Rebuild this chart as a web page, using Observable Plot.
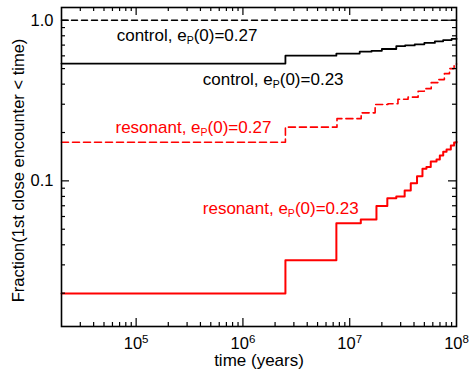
<!DOCTYPE html>
<html><head><meta charset="utf-8">
<script src="https://cdn.jsdelivr.net/npm/d3@7"></script>
<script src="https://cdn.jsdelivr.net/npm/@observablehq/plot@0.6"></script>
<style>html,body{margin:0;padding:0;background:#fff;}</style>
</head><body><div id="chart"></div>
<script>
// ---- data ----
const ctl27T = [2e4, 1e8];
const ctl27F = [1.0, 1.0];

const ctl23T = [2e4, 2.5e6, 7.5e6, 1.24e7, 1.6e7, 2.0e7, 2.73e7, 3.3e7, 4.06e7, 5.0e7, 6.27e7, 7.5e7, 9.0e7, 1e8];
const ctl23F = [0.537, 0.602, 0.620, 0.637, 0.645, 0.662, 0.689, 0.697, 0.708, 0.722, 0.739, 0.752, 0.765, 0.768];

const res27T = [2e4, 2.5e6, 7.6e6, 1.28e7, 1.73e7, 2.28e7, 2.83e7, 3.52e7, 4.37e7, 5.0e7, 5.8e7, 6.7e7, 7.7e7, 8.6e7, 9.5e7, 1e8];
const res27F = [0.174, 0.216, 0.244, 0.265, 0.299, 0.302, 0.322, 0.332, 0.361, 0.375, 0.409, 0.427, 0.465, 0.50, 0.524, 0.535];

const res23T = [2e4, 2.5e6, 7.5e6, 1.27e7, 1.78e7, 2.25e7, 2.73e7, 3.27e7, 3.73e7, 4.27e7, 4.80e7, 5.23e7, 5.74e7, 6.50e7, 6.98e7, 7.51e7, 8.07e7, 8.85e7, 9.5e7, 1e8];
const res23F = [0.0199, 0.0321, 0.0544, 0.0574, 0.0698, 0.078, 0.080, 0.087, 0.0966, 0.107, 0.119, 0.122, 0.132, 0.136, 0.144, 0.152, 0.157, 0.166, 0.173, 0.175];

const labelText = ["control, e_P(0)=0.27", "control, e_P(0)=0.23", "resonant, e_P(0)=0.27", "resonant, e_P(0)=0.23"];
const labelT = [3.0e5, 1.92e6, 3.44e5, 2.26e6];
const labelF = [0.807, 0.429, 0.2145, 0.0670];
const labelColor = ["black", "black", "red", "red"];

const xTickVals = [1e5, 1e6, 1e7, 1e8];
const yTickVals = [0.1, 1.0];
const yTickLabels = ["0.1", "1.0"];
const xTitle = "time (years)";
const yTitle = "Fraction(1st close encounter < time)";

// ---- helpers ----
const series = (T, F) => T.map((t, i) => ({t, f: F[i]}));
const labels = labelText.map((s, i) => ({text: s, t: labelT[i], f: labelF[i], color: labelColor[i]}));

const xDomain = [2e4, 1e8];
const yDomain = [0.0124, 1.2];
const W = 474, H = 375;
const mL = 61, mR = 18, mT = 7, mB = 49;
const innerW = W - mL - mR, innerH = H - mT - mB;

const xMinor = [], yMinor = [];
for (let e = 4; e < 8; e++) for (let k = 2; k <= 9; k++) { const v = k * 10 ** e; if (v > xDomain[0] && v < xDomain[1]) xMinor.push(v); }
for (let e = -2; e < 1; e++) for (let k = 2; k <= 9; k++) { const v = k * 10 ** e; if (v > yDomain[0] && v < yDomain[1]) yMinor.push(v); }
const xMajor = [1e5, 1e6, 1e7];
const yMajor = [0.1, 1.0];
const MAJ = 8, MIN = 4;

const svg = Plot.plot({
  width: W, height: H,
  marginLeft: mL, marginRight: mR, marginTop: mT, marginBottom: mB,
  style: {fontFamily: "'Liberation Sans', Arial, Helvetica, sans-serif", fontSize: "16px", background: "white", color: "black"},
  x: {type: "log", domain: xDomain, label: null},
  y: {type: "log", domain: yDomain, label: null},
  marks: [
    Plot.line(series(ctl27T, ctl27F), {x: "t", y: "f", curve: "step-after", stroke: "black", strokeWidth: 1.5, strokeDasharray: "6,4"}),
    Plot.line(series(ctl23T, ctl23F), {x: "t", y: "f", curve: "step-after", stroke: "black", strokeWidth: 1.8}),
    Plot.line(series(res27T, res27F), {x: "t", y: "f", curve: "step-after", stroke: "red", strokeWidth: 1.6, strokeDasharray: "7,4"}),
    Plot.line(series(res23T, res23F), {x: "t", y: "f", curve: "step-after", stroke: "red", strokeWidth: 2}),
    // inward ticks: bottom/top
    Plot.tickX(xMajor, {x: d => d, insetTop: innerH - MAJ, stroke: "black", strokeWidth: 1.2}),
    Plot.tickX(xMinor, {x: d => d, insetTop: innerH - MIN, stroke: "black", strokeWidth: 1.2}),
    Plot.tickX(xMajor, {x: d => d, insetBottom: innerH - MAJ, stroke: "black", strokeWidth: 1.2}),
    Plot.tickX(xMinor, {x: d => d, insetBottom: innerH - MIN, stroke: "black", strokeWidth: 1.2}),
    // inward ticks: left/right
    Plot.tickY(yMajor, {y: d => d, insetRight: innerW - MAJ, stroke: "black", strokeWidth: 1.2}),
    Plot.tickY(yMinor, {y: d => d, insetRight: innerW - MIN, stroke: "black", strokeWidth: 1.2}),
    Plot.tickY(yMajor, {y: d => d, insetLeft: innerW - MAJ, stroke: "black", strokeWidth: 1.2}),
    Plot.tickY(yMinor, {y: d => d, insetLeft: innerW - MIN, stroke: "black", strokeWidth: 1.2}),
    Plot.frame({stroke: "black", strokeWidth: 1.6}),
    Plot.axisX(xTickVals, {tickSize: 0, tickPadding: 11, fontSize: 16.5, tickFormat: d => "10^" + Math.round(Math.log10(d)), label: null}),
    Plot.axisY(yTickVals, {tickSize: 0, tickPadding: 8, fontSize: 16.5, tickFormat: d => yTickLabels[yTickVals.indexOf(d)], label: null}),
    Plot.text(labels, {x: "t", y: "f", text: "text", fill: "color", fontSize: 17, textAnchor: "middle", lineAnchor: "middle"}),
    Plot.text([xTitle], {frameAnchor: "bottom", fontSize: 17, textAnchor: "middle", lineAnchor: "middle", dy: 34, text: d => d}),
    Plot.text([yTitle], {frameAnchor: "left", fontSize: 16.5, textAnchor: "middle", lineAnchor: "middle", rotate: -90, dx: -43, dy: 3.5, text: d => d})
  ]
});

// sub/superscripts
d3.select(svg).selectAll("text").each(function () {
  const el = d3.select(this);
  if (this.querySelector("tspan")) return;
  const s = this.textContent;
  let m;
  if ((m = s.match(/^(.*)e_P(.*)$/))) {
    el.text(null);
    el.append("tspan").text(m[1] + "e");
    el.append("tspan").attr("font-size", 10.5).attr("dy", 3).text("P");
    el.append("tspan").attr("dy", -3).text(m[2]);
  } else if ((m = s.match(/^10\^(\d+)$/))) {
    el.text(null);
    el.append("tspan").text("10");
    el.append("tspan").attr("font-size", 11.5).attr("dy", -6).text(m[1]);
  }
});

document.getElementById("chart").appendChild(svg);
</script>
</body></html>
